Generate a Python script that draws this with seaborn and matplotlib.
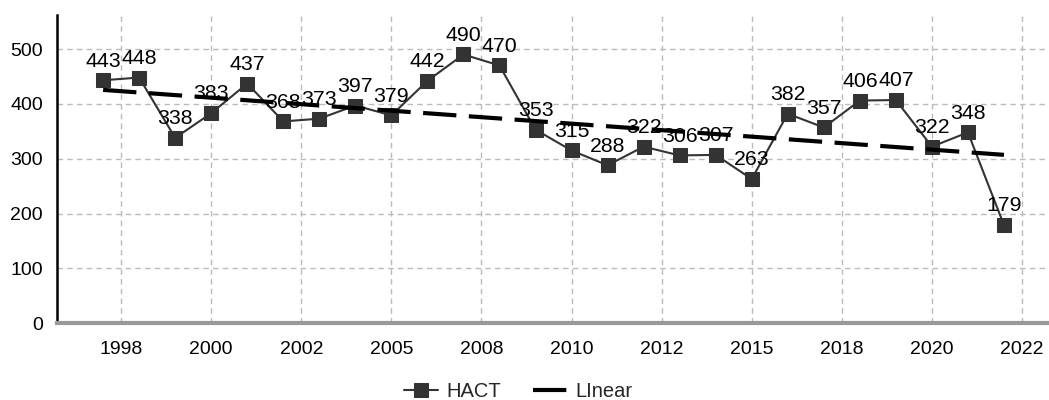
import numpy as np
import pandas as pd
import matplotlib
matplotlib.use("Agg")
import matplotlib.pyplot as plt
import seaborn as sns

years = list(range(1997, 2023))
hact = [443, 448, 338, 383, 437, 368, 373, 397, 379, 442, 490, 470, 353,
        315, 288, 322, 306, 307, 263, 382, 357, 406, 407, 322, 348, 179]
tick_pos = [1997.5, 2000, 2002.5, 2005, 2007.5, 2010, 2012.5, 2015, 2017.5, 2020, 2022.5]
tick_labels = ["1998", "2000", "2002", "2005", "2008", "2010", "2012", "2015", "2018", "2020", "2022"]
y_ticks = [0, 100, 200, 300, 400, 500]

sns.set_theme(style="white")
plt.rcParams['font.family'] = ['Liberation Sans', 'DejaVu Sans']

df = pd.DataFrame({"year": years, "HACT": hact})
coef = np.polyfit(df["year"], df["HACT"], 1)
df["Linear"] = np.polyval(coef, df["year"])

fig = plt.figure(figsize=(10.49, 4.0), dpi=100)
ax = fig.add_axes([57 / 1049, 1 - 323.3 / 400, 1 - 57 / 1049, (323.3 - 15) / 400])

sns.lineplot(data=df, x="year", y="HACT", ax=ax, color="#333333", lw=1.5,
             marker="s", markersize=10, markeredgecolor="#333333",
             markerfacecolor="#333333", label="HACT", zorder=3)
sns.lineplot(data=df, x="year", y="Linear", ax=ax, color="black", lw=3,
             label="LInear", zorder=4)
ax.lines[1].set_dashes((8, 3))

for x, v in zip(years, hact):
    ax.annotate(str(v), (x, v), xytext=(0, 7), textcoords="offset points",
                ha="center", va="bottom", fontsize=15.3, color="black", zorder=5)

ax.set_xlim(1995.72, 2023.25)
ax.set_ylim(0, 562)
ax.set_xticks(tick_pos)
ax.set_xticklabels(tick_labels)
ax.set_yticks(y_ticks)
ax.set_xlabel("")
ax.set_ylabel("")
ax.tick_params(axis="both", labelsize=14, colors="black", length=4, width=1.2)
ax.tick_params(axis="x", pad=11, direction="inout", color="#333333")
ax.tick_params(axis="y", pad=6)
ax.grid(True, color="#bbbbbb", linestyle=(0, (4, 3)), lw=1)
ax.set_axisbelow(True)

for s in ["top", "right"]:
    ax.spines[s].set_visible(False)
ax.spines["left"].set_color("black")
ax.spines["left"].set_linewidth(1.8)
ax.spines["bottom"].set_color("#999999")
ax.spines["bottom"].set_linewidth(3)
ax.axhline(0, color="#333333", lw=1.2, linestyle=(0, (2, 1.5)), zorder=2, clip_on=False)

ax.legend_.remove()
handles, labels = ax.get_legend_handles_labels()
fig.legend(handles, labels, loc="center", bbox_to_anchor=(0.494, 0.022), ncol=2,
           frameon=False, fontsize=14.5, handlelength=1.7, handletextpad=0.4,
           columnspacing=1.6)

fig.savefig("out.png", dpi=100)
